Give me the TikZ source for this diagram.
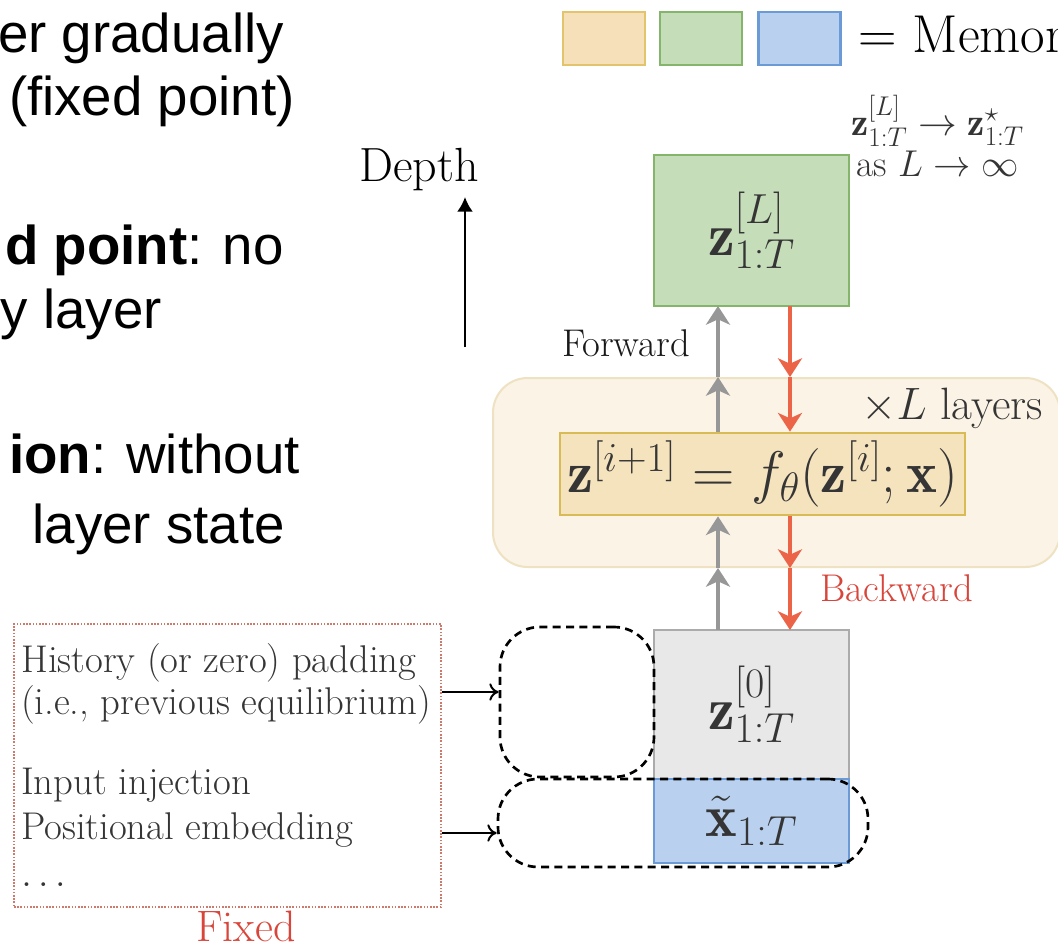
\RequirePackage{fix-cm}
\documentclass[tikz,border=0pt]{standalone}
\usepackage{amsmath}
\usepackage{fontspec}
\newfontfamily\slidefont{Liberation Sans}
\usetikzlibrary{arrows.meta}

\definecolor{ink}{HTML}{353535}
\definecolor{legOrFill}{HTML}{F6E0BA}
\definecolor{legOrLine}{HTML}{E3C46C}
\definecolor{grFill}{HTML}{C6DDBA}
\definecolor{grLine}{HTML}{84B56A}
\definecolor{blFill}{HTML}{B9D1EE}
\definecolor{blLine}{HTML}{6A9BD6}
\definecolor{bgFill}{HTML}{FAF3E6}
\definecolor{bgLine}{HTML}{EFE2C2}
\definecolor{eqFill}{HTML}{F5E3BE}
\definecolor{eqLine}{HTML}{D9BB55}
\definecolor{zFill}{HTML}{E8E8E8}
\definecolor{zLine}{HTML}{ABABAB}
\definecolor{fwd}{HTML}{979797}
\definecolor{bwd}{HTML}{EC6448}
\definecolor{redtext}{HTML}{D9453A}
\definecolor{fixLine}{HTML}{CC7A6C}

\tikzset{
  slide/.style={font=\slidefont\fontsize{41pt}{49pt}\selectfont, inner sep=0pt, text=black},
  lbl/.style={font=\fontsize{29pt}{34pt}\selectfont, inner sep=0pt},
  tensor/.style={line width=2pt, inner sep=0pt, outer sep=0pt, text=ink,
    font=\fontsize{45pt}{52pt}\selectfont},
  legendbox/.style={line width=2pt, inner sep=0pt, minimum width=61.5pt, minimum height=39.75pt},
  slot/.style={draw=black, line width=2pt, dash pattern=on 6pt off 4pt,
    rounded corners=30pt, inner sep=0pt},
  fwdarrow/.style={draw=fwd, line width=3.2pt, -{Stealth[length=14pt,width=18pt,inset=4pt]}},
  bwdarrow/.style={draw=bwd, line width=3.2pt, -{Stealth[length=14pt,width=18pt,inset=4pt]}},
  feed/.style={draw=black, line width=1.5pt, -{To[length=7pt,width=13pt]}},
}

\begin{document}
\begin{tikzpicture}[x=0.75pt,y=-0.75pt]
\useasboundingbox (0,0) rectangle (1058,949);
\clip (0,0) rectangle (1058,949);
\fill[white] (0,0) rectangle (1058,949);

% slide text on the left
\node[slide, anchor=base east] (s1) at (284,53) {er gradually};
\node[slide, anchor=base east] (s2) at (295,116) {(fixed point)};
\node[slide, anchor=base east] (s3) at (284,264) {\textbf{d point}: no};
\node[slide, anchor=base east] (s4) at (162,328) {y layer};
\node[slide, anchor=base east] (s5) at (300,473) {\textbf{ion}: without};
\node[slide, anchor=base east] (s6) at (285,543) {layer state};

% legend
\node[legendbox, draw=legOrLine, fill=legOrFill] (legA) at (604,38.5) {};
\node[legendbox, draw=grLine, fill=grFill] (legB) at (701,38.5) {};
\node[legendbox, draw=blLine, fill=blFill] (legC) at (799.5,38.5) {};
\node[anchor=base west, inner sep=0pt, font=\fontsize{40pt}{48pt}\selectfont] (legT) at (858,53) {$=$ Memor};

% depth axis
\node[anchor=base, inner sep=0pt, font=\fontsize{36pt}{42pt}\selectfont] (depth) at (419,181) {Depth};
\coordinate (dTail) at (465,347);
\coordinate (dHead) at (465,197);
\draw[line width=1.9pt, -{Latex[length=11pt,width=12pt]}] (dTail) -- (dHead);

% layer block
\node[draw=bgLine, fill=bgFill, line width=1.5pt, rounded corners=26pt,
      minimum width=425.25pt, minimum height=141.75pt, inner sep=0pt] (layers) at (776.5,472.5) {};
\node[draw=eqLine, fill=eqFill, line width=2pt, minimum width=303.75pt, minimum height=61.5pt,
      inner sep=0pt, text=ink, font=\fontsize{44pt}{50pt}\selectfont] (eq) at (762.5,474)
      {$\mathbf{z}^{[i+1]} = f_\theta(\mathbf{z}^{[i]};\mathbf{x})$};
\node[lbl, anchor=base west, font=\fontsize{34pt}{40pt}\selectfont, text=ink] (times) at (861,419) {$\times L$ layers};

% tensors
\node[tensor, draw=grLine, fill=grFill, minimum width=146.25pt, minimum height=113.25pt] (zL) at (751.5,230.5)
      {$\mathbf{z}^{[L]}_{1:T}$};
\node[tensor, draw=zLine, fill=zFill, minimum width=146.25pt, minimum height=111.75pt] (z0) at (751.5,704.5)
      {$\mathbf{z}^{[0]}_{1:T}$};
\node[tensor, draw=blLine, fill=blFill, minimum width=146.25pt, minimum height=63pt] (xt) at (751.5,821)
      {$\tilde{\mathbf{x}}_{1:T}$};

% convergence note
\node[anchor=base west, inner sep=0pt, font=\fontsize{29pt}{30pt}\selectfont, text=ink] (note1) at (851,136)
      {$\mathbf{z}^{[L]}_{1:T} \rightarrow \mathbf{z}^{\star}_{1:T}$};
\node[anchor=base west, inner sep=0pt, font=\fontsize{28pt}{30pt}\selectfont, text=ink] (note2) at (856,176)
      {as $L \rightarrow \infty$};

% forward / backward labels
\node[lbl, anchor=base east, text=black!90] (fwlbl) at (690,356) {Forward};
\node[lbl, anchor=base west, text=redtext] (bwlbl) at (820,601) {Backward};

% forward (up) and backward (down) flow
\coordinate (gx) at (718,0);
\coordinate (rx) at (790,0);
\draw[fwdarrow] (z0.north -| gx) -- (layers.south -| gx);
\draw[fwdarrow] (layers.south -| gx) -- (eq.south -| gx);
\draw[fwdarrow] (eq.north -| gx) -- (layers.north -| gx);
\draw[fwdarrow] (layers.north -| gx) -- (zL.south -| gx);
\draw[bwdarrow] (zL.south -| rx) -- (layers.north -| rx);
\draw[bwdarrow] (layers.north -| rx) -- (eq.north -| rx);
\draw[bwdarrow] (eq.south -| rx) -- (layers.south -| rx);
\draw[bwdarrow] (layers.south -| rx) -- (z0.north -| rx);

% dashed slots filled from the fixed inputs
\node[slot, minimum width=115.5pt, minimum height=112.5pt] (padslot) at (577,702) {};
\node[slot, minimum width=277.5pt, minimum height=66pt] (inslot) at (683,823) {};

% fixed inputs
\node[draw=fixLine, line width=1.6pt, dash pattern=on 1.2pt off 1.2pt, minimum width=320.25pt,
      minimum height=212.25pt, inner sep=0pt] (fixed) at (227.5,765.5) {};
\node[lbl, anchor=base west, text=ink] (f1) at (21,672) {History (or zero) padding};
\node[lbl, anchor=base west, text=ink] (f2) at (21,714) {(i.e., previous equilibrium)};
\node[lbl, anchor=base west, text=ink] (f3) at (21,794) {Input injection};
\node[lbl, anchor=base west, text=ink] (f4) at (21,839) {Positional embedding};
\node[lbl, anchor=base west, text=ink] (f5) at (21,886) {$\ldots$};
\node[anchor=base, inner sep=0pt, text=redtext, font=\fontsize{33pt}{40pt}\selectfont] (fixlbl) at (246,941) {Fixed};

\draw[feed] (fixed.east |- 0,692) -- (padslot.west |- 0,692);
\draw[feed] (fixed.east |- 0,833) -- (inslot.west |- 0,833);
\end{tikzpicture}
\end{document}
